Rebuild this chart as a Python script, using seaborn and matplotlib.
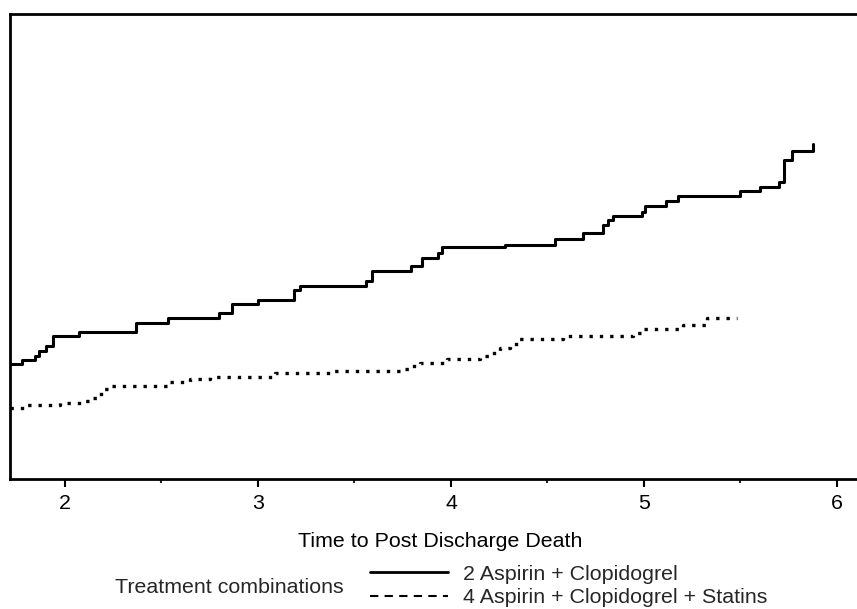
import matplotlib
matplotlib.use("Agg")
import matplotlib.pyplot as plt
import seaborn as sns
import pandas as pd
from matplotlib.lines import Line2D

# ----------------------------
# Data
# ----------------------------
time_asp_clop = [1.715, 1.777, 1.845, 1.865, 1.902, 1.938, 2.073, 2.368, 2.534,
                 2.798, 2.865, 3.000, 3.187, 3.218, 3.560, 3.591, 3.793, 3.850,
                 3.933, 3.953, 4.280, 4.539, 4.684, 4.788, 4.813, 4.839, 4.990,
                 5.005, 5.114, 5.176, 5.497, 5.601, 5.699, 5.725, 5.767, 5.876]
haz_asp_clop = [0.248, 0.256, 0.265, 0.276, 0.287, 0.308, 0.317, 0.336, 0.347,
                0.356, 0.377, 0.386, 0.407, 0.416, 0.425, 0.448, 0.457, 0.476,
                0.487, 0.498, 0.504, 0.517, 0.528, 0.547, 0.556, 0.565, 0.575,
                0.588, 0.597, 0.608, 0.619, 0.627, 0.638, 0.685, 0.705, 0.720]

time_asp_clop_stat = [1.715, 1.803, 1.974, 2.104, 2.140, 2.171, 2.202, 2.223, 2.528,
                      2.648, 2.751, 3.088, 3.373, 3.736, 3.788, 3.839, 3.979, 4.150,
                      4.202, 4.254, 4.306, 4.347, 4.580, 4.943, 4.995, 5.202, 5.326,
                      5.482]
haz_asp_clop_stat = [0.153, 0.159, 0.164, 0.168, 0.175, 0.183, 0.194, 0.200, 0.209,
                     0.216, 0.220, 0.228, 0.233, 0.237, 0.244, 0.250, 0.259, 0.265,
                     0.272, 0.282, 0.291, 0.302, 0.308, 0.313, 0.323, 0.332, 0.347,
                     0.347]

labels = ["2 Aspirin + Clopidogrel", "4 Aspirin + Clopidogrel + Statins"]
x_ticks = [2, 3, 4, 5, 6]

df1 = pd.DataFrame({"time": time_asp_clop, "hazard": haz_asp_clop})
df2 = pd.DataFrame({"time": time_asp_clop_stat, "hazard": haz_asp_clop_stat})

# ----------------------------
# Plot
# ----------------------------
sns.set_theme(style="white")
plt.rcParams["font.family"] = ["Liberation Sans", "DejaVu Sans"]
FS = 15.4

fig = plt.figure(figsize=(8.57, 6.09), dpi=100)
ax = fig.add_axes([10 / 857, 130 / 609, 847 / 857, 465 / 609])

sns.lineplot(data=df1, x="time", y="hazard", ax=ax, color="black",
             drawstyle="steps-post", linewidth=2.2, estimator=None)
sns.lineplot(data=df2, x="time", y="hazard", ax=ax, color="black",
             drawstyle="steps-post", linewidth=2.4, estimator=None,
             linestyle=(0, (1, 2.1)), dash_capstyle="butt")

ax.set_xlim(1.715, 6.104)
ax.set_ylim(0, 1.0)
ax.set_xticks(x_ticks)
ax.set_xticks([2.5, 3.5, 4.5, 5.5], minor=True)
ax.set_yticks([])
ax.tick_params(axis="x", which="major", length=5.8, width=1.5, pad=5,
               labelsize=FS, colors="black", bottom=True)
ax.tick_params(axis="x", which="minor", length=3, width=1.5, bottom=True)

for side in ["left", "bottom", "top"]:
    ax.spines[side].set_linewidth(2.0)
    ax.spines[side].set_color("black")
ax.spines["right"].set_visible(False)

ax.set_xlabel("Time to Post Discharge Death", fontsize=FS, color="black")
ax.xaxis.label.set_va("baseline")
ax.xaxis.set_label_coords((440 - 10) / 847, (479 - 547) / 465)
ax.set_ylabel("")

# legend
fig.text(115 / 857, (609 - 593) / 609, "Treatment combinations",
         fontsize=FS, va="baseline", ha="left")
handles = [Line2D([], [], color="black", linewidth=2.0),
           Line2D([], [], color="black", linewidth=1.5, linestyle=(0, (4, 3)))]
fig.legend(handles, labels, loc="center left",
           bbox_to_anchor=(370 / 857, (609 - 586) / 609),
           frameon=False, fontsize=FS, handlelength=3.65, handletextpad=0.7,
           labelspacing=0.19, borderpad=0, borderaxespad=0)

fig.savefig("out.png", dpi=100)
